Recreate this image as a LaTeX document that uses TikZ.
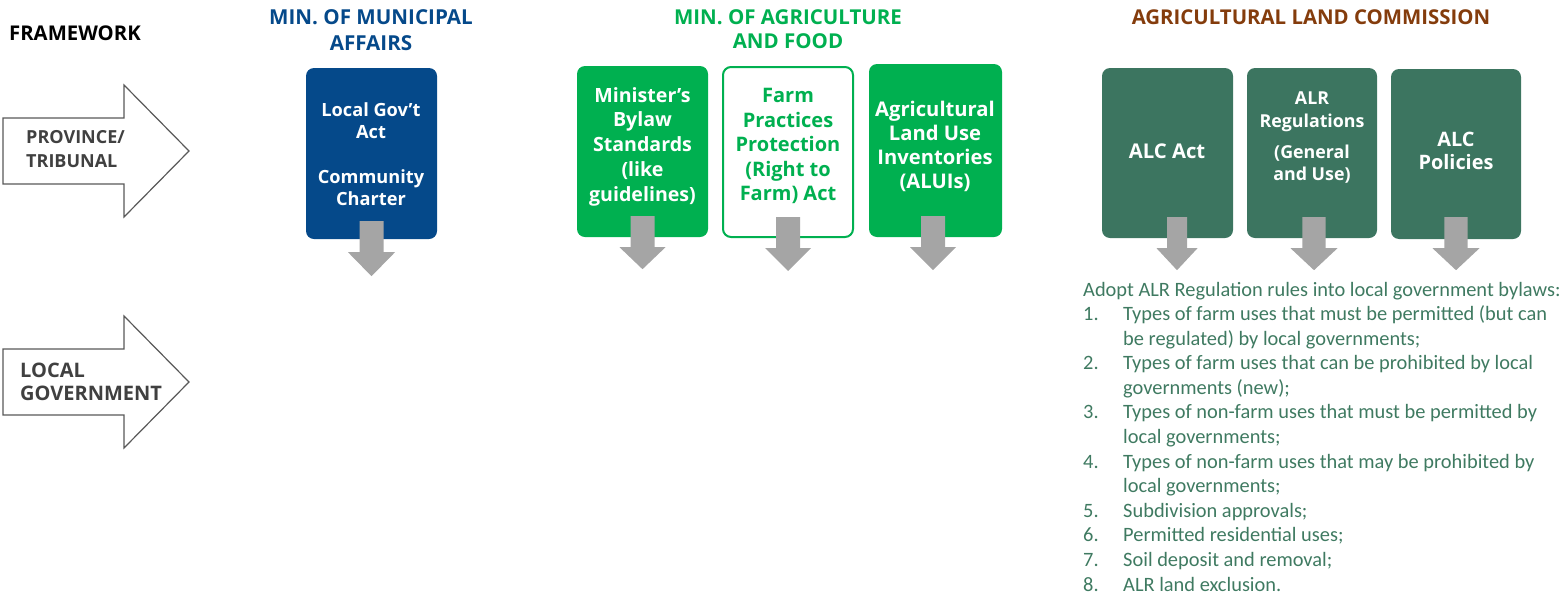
\documentclass[tikz,border=0pt]{standalone}
\usepackage{fontspec}
\setmainfont{Open Sans}
\newfontfamily\listfont{Carlito}
\usetikzlibrary{calc}
\definecolor{mmablue}{HTML}{05498A}
\definecolor{aggreen}{HTML}{00B050}
\definecolor{alcgreen}{HTML}{3C7560}
\definecolor{alcbrown}{HTML}{843C0C}
\definecolor{arrowgray}{HTML}{A5A5A5}
\definecolor{darktext}{HTML}{404040}
\definecolor{outline}{HTML}{595959}
\definecolor{listgreen}{HTML}{3F7A61}
\tikzset{
  bigarrow/.style={draw=outline, line width=1.2pt, fill=white, line join=miter},
  arrowlabel/.style={font=\bfseries\fontsize{18}{24}\selectfont, text=darktext, align=left, anchor=west, inner sep=0pt},
  heading/.style={font=\bfseries\fontsize{20.5}{25}\selectfont, align=center, inner sep=0pt},
  box/.style={rectangle, rounded corners=8pt, inner sep=0pt},
  boxtext/.style={font=\bfseries\fontsize{20}{24}\selectfont, align=center, text=white, inner sep=0pt},
  listtext/.style={font=\listfont\fontsize{20.4}{24}\selectfont, text=listgreen, anchor=base west, inner sep=0pt},
}
\begin{document}
\begin{tikzpicture}[x=1pt,y=-1pt]
\useasboundingbox (0,0) rectangle (1562,595);

% left framework labels
\node[heading, anchor=west, text=black, font=\bfseries\fontsize{20.3}{25}\selectfont] (fw) at (9,33) {FRAMEWORK};
\draw[bigarrow] (3,118) -- (124,118) -- (124,85) -- (189,151) -- (124,217) -- (124,184) -- (3,184) -- cycle;
\node[arrowlabel] (prov) at (26,149) {PROVINCE/\\TRIBUNAL};
\draw[bigarrow] (3,349) -- (124,349) -- (124,316) -- (189,382) -- (124,448) -- (124,415) -- (3,415) -- cycle;
\node[arrowlabel, font=\bfseries\fontsize{20}{23}\selectfont] (lg) at (20,381.5) {LOCAL\\GOVERNMENT};

% headings
\node[heading, text=mmablue, font=\bfseries\fontsize{20.6}{26}\selectfont] (hmma) at (371,30) {MIN. OF MUNICIPAL\\AFFAIRS};
\node[heading, text=aggreen, font=\bfseries\fontsize{20.5}{24}\selectfont] (hag) at (788,29) {MIN. OF AGRICULTURE\\AND FOOD};
\node[heading, text=alcbrown, font=\bfseries\fontsize{20.4}{25}\selectfont] (halc) at (1311,17) {AGRICULTURAL LAND COMMISSION};

% boxes
\node[box, fill=mmablue, minimum width=131pt, minimum height=171pt] (mma) at (371.5,153.5) {};
\node[box, fill=aggreen, minimum width=131pt, minimum height=171pt] (ag1) at (642.5,151.5) {};
\node[box, fill=white, draw=aggreen, line width=2pt, minimum width=130pt, minimum height=170pt] (ag2) at (788,152) {};
\node[box, fill=aggreen, minimum width=133pt, minimum height=173pt] (ag3) at (935.5,150.5) {};
\node[box, fill=alcgreen, minimum width=131pt, minimum height=170pt] (alc1) at (1167.5,153) {};
\node[box, fill=alcgreen, minimum width=130pt, minimum height=170pt] (alc2) at (1312,153) {};
\node[box, fill=alcgreen, minimum width=130pt, minimum height=170pt] (alc3) at (1456,154) {};

% box texts
\node[boxtext, font=\bfseries\fontsize{18.2}{22}\selectfont] (tmma) at (371,154) {Local Gov’t\\Act\\[22.5pt]Community\\Charter};
\node[boxtext, font=\bfseries\fontsize{19.6}{24.75}\selectfont] (tag1) at (642.5,146.5) {Minister’s\\Bylaw\\Standards\\(like\\guidelines)};
\node[boxtext, text=aggreen, font=\bfseries\fontsize{20}{24.5}\selectfont] (tag2) at (788,146) {Farm\\Practices\\Protection\\(Right to\\Farm) Act};
\node[boxtext, font=\bfseries\fontsize{20.2}{24}\selectfont] (tag3) at (935,146) {Agricultural\\Land Use\\Inventories\\(ALUIs)};
\node[boxtext, font=\bfseries\fontsize{20.3}{24}\selectfont] (talc1) at (1167,151) {ALC Act};
\node[boxtext, font=\bfseries\fontsize{17.8}{22.5}\selectfont] (talc2) at (1312,138) {ALR\\Regulations\\[8.5pt](General\\and Use)};
\node[boxtext, font=\bfseries\fontsize{19.9}{23}\selectfont] (talc3) at (1456,150.5) {ALC\\Policies};

% gray block arrows
\foreach \b/\dx/\sw/\hw/\tp/\hd/\tip in {
  mma/0/12/23.5/18/13/37,
  ag1/0/12/23/21/10/32,
  ag2/0/12/23/21/10/33,
  ag3/-2.5/12/23/21/10/33,
  alc1/9.5/10/20.5/21/10/32,
  alc2/2/11.7/23.5/21/10/32,
  alc3/0/11.7/23.5/22/9/31}{
  \fill[arrowgray] ($(\b.south)+(\dx-\sw,-\tp)$) -- ($(\b.south)+(\dx+\sw,-\tp)$)
    -- ($(\b.south)+(\dx+\sw,\hd)$) -- ($(\b.south)+(\dx+\hw,\hd)$)
    -- ($(\b.south)+(\dx,\tip)$) -- ($(\b.south)+(\dx-\hw,\hd)$)
    -- ($(\b.south)+(\dx-\sw,\hd)$) -- cycle;
}

% list
\node[listtext] (l0) at (1083,296) {Adopt ALR Regulation rules into local government bylaws:};
\node[listtext] (n1) at (1083,320.6) {1.};
\node[listtext] (l1) at (1123,320.6) {Types of farm uses that must be permitted (but can};
\node[listtext] (l2) at (1123,345.2) {be regulated) by local governments;};
\node[listtext] (n2) at (1083,369.7) {2.};
\node[listtext] (l3) at (1123,369.7) {Types of farm uses that can be prohibited by local};
\node[listtext] (l4) at (1123,394.3) {governments (new);};
\node[listtext] (n3) at (1083,418.9) {3.};
\node[listtext] (l5) at (1123,418.9) {Types of non-farm uses that must be permitted by};
\node[listtext] (l6) at (1123,443.5) {local governments;};
\node[listtext] (n4) at (1083,468.1) {4.};
\node[listtext] (l7) at (1123,468.1) {Types of non-farm uses that may be prohibited by};
\node[listtext] (l8) at (1123,492.6) {local governments;};
\node[listtext] (n5) at (1083,517.2) {5.};
\node[listtext] (l9) at (1123,517.2) {Subdivision approvals;};
\node[listtext] (n6) at (1083,541.8) {6.};
\node[listtext] (l10) at (1123,541.8) {Permitted residential uses;};
\node[listtext] (n7) at (1083,566.4) {7.};
\node[listtext] (l11) at (1123,566.4) {Soil deposit and removal;};
\node[listtext] (n8) at (1083,591) {8.};
\node[listtext] (l12) at (1123,591) {ALR land exclusion.};
\end{tikzpicture}
\end{document}
